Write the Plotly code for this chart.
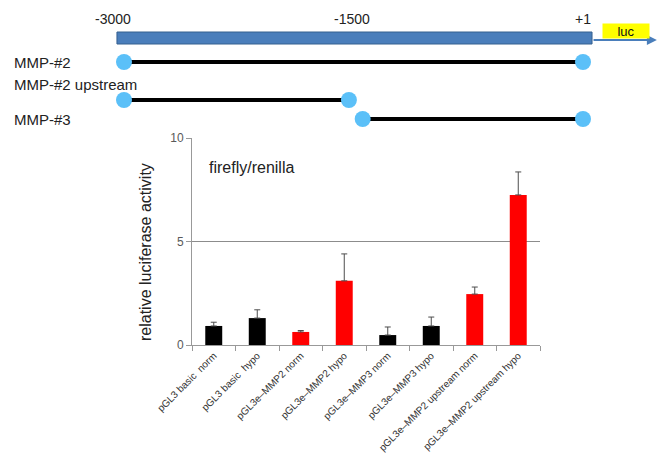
import plotly.graph_objects as go

# ---------------- data ----------------
categories = [
    "pGL3 basic  norm", "pGL3 basic  hypo",
    "pGL3e–MMP2 norm", "pGL3e–MMP2 hypo",
    "pGL3e–MMP3 norm", "pGL3e–MMP3 hypo",
    "pGL3e–MMP2 upstream norm", "pGL3e–MMP2 upstream hypo",
]
activity = [0.92, 1.30, 0.63, 3.10, 0.48, 0.92, 2.46, 7.25]
activity_err = [0.18, 0.40, 0.07, 1.30, 0.39, 0.43, 0.34, 1.11]
bar_group = ["basic", "basic", "MMP2", "MMP2", "MMP3", "MMP3", "upstream", "upstream"]
y_ticks = [0, 5, 10]

# promoter diagram (bp relative to transcription start)
promoter_span = [-3046, 59]
diagram_tick_labels = ["-3000", "-1500", "+1"]
diagram_tick_pos = [-3000, -1500, 0]
constructs = ["MMP-#2", "MMP-#2 upstream", "MMP-#3"]
construct_start = [-3000, -3000, -1440]
construct_end = [0, -1530, 0]
reporter_label = "luc"
reporter_pos = 281
arrow_end = 483

# ---------------- layout helpers ----------------
W, H = 659, 459
group_color = {"basic": "#000000", "MMP2": "#ff0000", "MMP3": "#000000", "upstream": "#ff0000"}
FONT = "Liberation Sans, Arial, sans-serif"

def px_x(p):
    return p / W

def px_y(p):
    return 1 - p / H

fig = go.Figure()

fig.add_trace(go.Bar(
    x=categories, y=activity,
    marker=dict(color=[group_color[g] for g in bar_group], line=dict(width=0)),
    error_y=dict(type="data", symmetric=False, array=activity_err,
                 arrayminus=[0] * len(activity_err),
                 color="#4d4d4d", thickness=1, width=3),
    xaxis="x", yaxis="y", showlegend=False,
))

# diagram: construct lines with end dots
construct_rows = [62, 100, 119]
for name, s, e, row in zip(constructs, construct_start, construct_end, construct_rows):
    fig.add_trace(go.Scatter(
        x=[s, e], y=[row, row], mode="lines+markers",
        line=dict(color="#000000", width=4),
        marker=dict(size=16, color="#5bc0f8"),
        xaxis="x2", yaxis="y2", showlegend=False, hoverinfo="skip",
    ))

# promoter bar
fig.add_shape(type="rect", xref="x2", yref="y2",
              x0=promoter_span[0], x1=promoter_span[1], y0=32, y1=44,
              fillcolor="#4a7ebb", line=dict(color="#35608f", width=1))

annotations = []
# arrow to reporter
annotations.append(dict(
    xref="x2", yref="y2", axref="x2", ayref="y2",
    x=arrow_end, y=40, ax=promoter_span[1], ay=40, text="",
    showarrow=True, arrowhead=2, arrowsize=1, arrowwidth=2, arrowcolor="#4a7ebb"))
# luc box
annotations.append(dict(
    xref="x2", yref="y2", x=reporter_pos, y=30.5, text=reporter_label,
    showarrow=False, bgcolor="#ffff00", width=44, height=12, borderpad=1,
    font=dict(family=FONT, size=13, color="#111111")))
# diagram tick labels
shifts = [-11, -2, 0]
for lab, pos, sh in zip(diagram_tick_labels, diagram_tick_pos, shifts):
    annotations.append(dict(
        xref="x2", yref="y2", x=pos, y=19, text=lab, showarrow=False, xshift=sh,
        font=dict(family=FONT, size=14, color="#222222")))
# construct names
name_rows = [63, 85, 119]
for name, row in zip(constructs, name_rows):
    annotations.append(dict(
        xref="paper", yref="paper", x=px_x(12), y=px_y(row), text=name,
        xanchor="left", yanchor="middle", showarrow=False,
        font=dict(family=FONT, size=15, color="#222222")))
# y title
annotations.append(dict(
    xref="paper", yref="paper", x=px_x(145), y=px_y(252),
    text="relative luciferase activity", textangle=-90, showarrow=False,
    xanchor="center", yanchor="middle",
    font=dict(family=FONT, size=16, color="#222222")))
# inner label
annotations.append(dict(
    xref="paper", yref="paper", x=px_x(207), y=px_y(167),
    text="firefly/renilla", showarrow=False, xanchor="left", yanchor="middle",
    font=dict(family=FONT, size=16, color="#222222")))

x2_range = [-3000 - 124 * 3000 / 459, -3000 + (W - 124) * 3000 / 459]

fig.update_layout(
    template="none",
    width=W, height=H, autosize=False,
    margin=dict(l=0, r=0, t=0, b=0, pad=0),
    paper_bgcolor="white", plot_bgcolor="rgba(0,0,0,0)",
    bargap=0.61,
    font=dict(family=FONT),
    annotations=annotations,
    xaxis=dict(
        domain=[px_x(192), px_x(540)], anchor="y", type="category",
        automargin=False,
        tickangle=-45, tickfont=dict(family=FONT, size=10, color="#333333"),
        showline=True, linecolor="#999999", linewidth=1,
        ticks="outside", tickson="boundaries", ticklen=5, tickcolor="#999999",
        showgrid=False, zeroline=False,
    ),
    yaxis=dict(
        domain=[px_y(345), px_y(138)], anchor="x", range=[0, 10],
        automargin=False,
        tickvals=y_ticks, tickfont=dict(family=FONT, size=12, color="#595959"),
        showline=True, linecolor="#999999", linewidth=1,
        ticks="outside", ticklen=5, tickcolor="#999999",
        showgrid=True, gridcolor="#8c8c8c", gridwidth=1, zeroline=False,
    ),
    xaxis2=dict(domain=[0, 1], anchor="y2", range=x2_range, visible=False,
                automargin=False),
    yaxis2=dict(domain=[0, 1], anchor="x2", range=[H, 0], visible=False,
                automargin=False),
)

fig.write_html(
    "out.html",
    config={"displayModeBar": False},
    post_script="document.body.style.margin='0px';document.body.style.overflow='hidden';",
)
